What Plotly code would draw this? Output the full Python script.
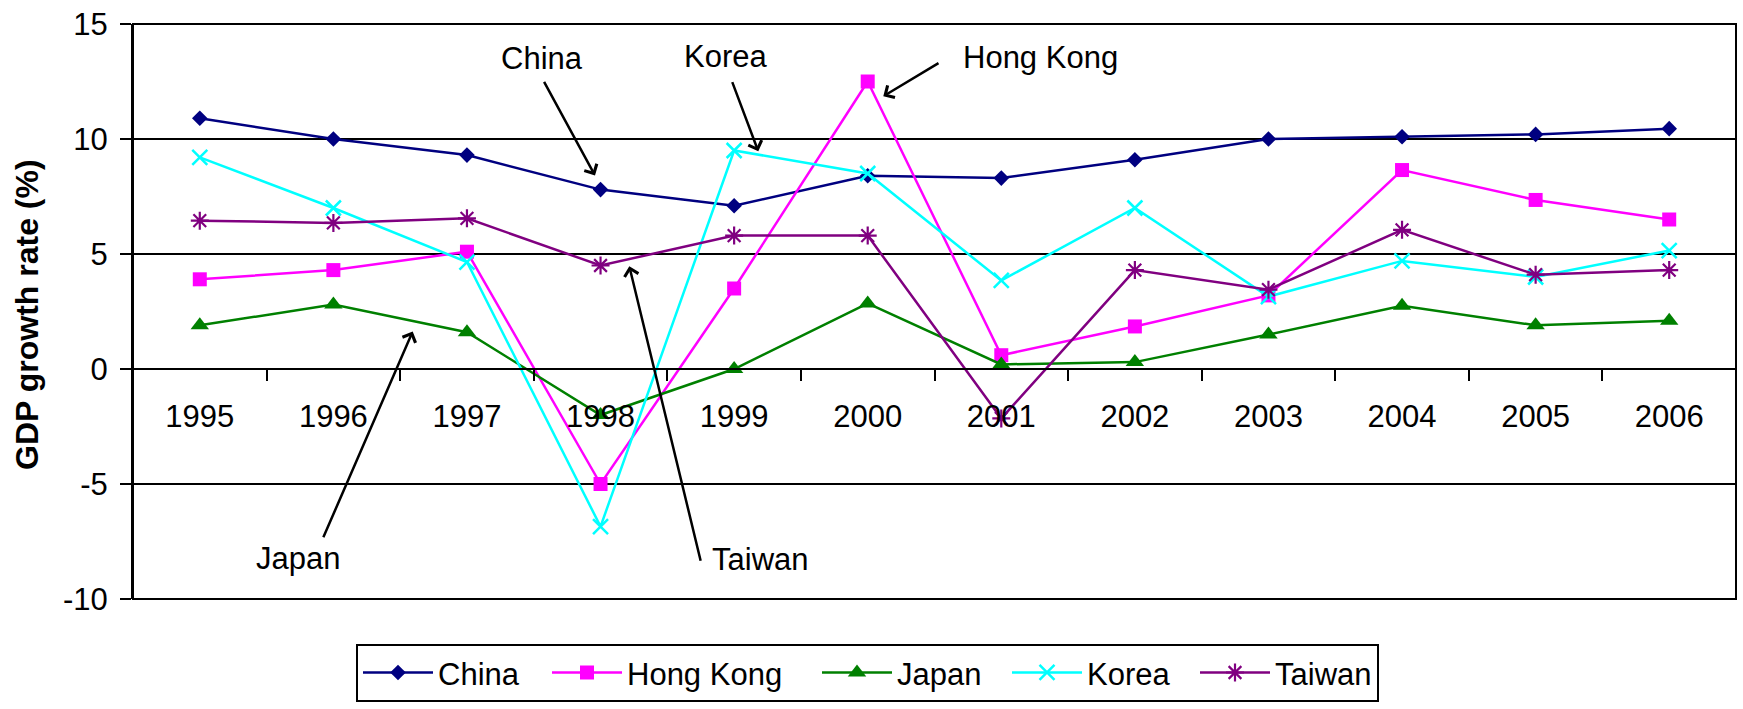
import plotly.graph_objects as go

years = ["1995", "1996", "1997", "1998", "1999", "2000",
         "2001", "2002", "2003", "2004", "2005", "2006"]
china = [10.9, 10.0, 9.3, 7.8, 7.1, 8.4, 8.3, 9.1, 10.0, 10.1, 10.2, 10.45]
hong_kong = [3.9, 4.3, 5.1, -5.0, 3.5, 12.5, 0.6, 1.85, 3.2, 8.65, 7.35, 6.5]
japan = [1.9, 2.8, 1.6, -2.0, 0.0, 2.85, 0.2, 0.3, 1.5, 2.75, 1.9, 2.1]
korea = [9.2, 7.0, 4.65, -6.85, 9.5, 8.5, 3.85, 7.0, 3.15, 4.7, 4.0, 5.15]
taiwan = [6.45, 6.35, 6.55, 4.5, 5.8, 5.8, -2.15, 4.3, 3.45, 6.05, 4.1, 4.3]

y_ticks = [-10, -5, 0, 5, 10, 15]
y_tick_text = ["-10", "-5", "0", "5", "10", "15"]

FONT = "Liberation Sans, Arial, sans-serif"
fs = 31

L, R, T, B = 133, 7, 22, 106
W = 1743 - L - R
H = 709 - T - B


def px(xp):
    return (xp - L) / W


def py(yp):
    return 1 - (yp - T) / H


series = [
    ("China", china, "#000080", dict(symbol="diamond", size=12), 104),
    ("Hong Kong", hong_kong, "#FF00FF", dict(symbol="square", size=14), 185),
    ("Japan", japan, "#008000", dict(symbol="triangle-up", size=16), 105),
    ("Korea", korea, "#00FFFF", dict(symbol="x-thin-open", size=15,
                                      line=dict(width=2.5, color="#00FFFF")), 103),
    ("Taiwan", taiwan, "#800080", dict(symbol="asterisk-open", size=15,
                                       line=dict(width=2.2, color="#800080")), 97),
]

fig = go.Figure()
for name, vals, col, mk, lw in series:
    m = dict(color=col, **mk)
    fig.add_trace(go.Scatter(x=years, y=vals, name=name, mode="lines+markers",
                             line=dict(color=col, width=2.5), marker=m,
                             legendwidth=lw))

# plot-area border
fig.add_shape(type="rect", xref="paper", yref="paper", x0=0, x1=1, y0=0, y1=1,
              line=dict(color="black", width=2), layer="below")

annotations = []
labels = [
    ("China", 541.7, 57),
    ("Korea", 725, 55),
    ("Hong Kong", 1040, 55.5),
    ("Japan", 298, 562),
    ("Taiwan", 760.5, 563),
]
for txt, x, y in labels:
    annotations.append(dict(text=txt, xref="paper", yref="paper", x=px(x), y=py(y),
                            xanchor="center", yanchor="middle", showarrow=False,
                            font=dict(family=FONT, size=fs, color="black")))
arrows = [
    ((595, 175), (543.3, 80)),
    ((758.3, 150.7), (731.7, 80)),
    ((883.3, 95), (940, 61)),
    ((412.7, 332.7), (322.7, 540)),
    ((629.3, 266.7), (701, 562.7)),
]
for (hx, hy), (tx, ty) in arrows:
    annotations.append(dict(text="", xref="paper", yref="paper", x=px(hx), y=py(hy),
                            axref="pixel", ayref="pixel", ax=tx - hx, ay=ty - hy,
                            showarrow=True, arrowhead=4, arrowsize=1.1, arrowwidth=2.5,
                            arrowcolor="black", standoff=0))
annotations.append(dict(text="<b>GDP growth rate (%)</b>", xref="paper", yref="paper",
                        x=px(27), y=py(316), textangle=-90, showarrow=False,
                        xanchor="center", yanchor="middle",
                        font=dict(family=FONT, size=fs + 1, color="black")))

fig.update_layout(
    width=1743, height=709,
    margin=dict(l=L, r=R, t=T, b=B),
    paper_bgcolor="white", plot_bgcolor="white",
    font=dict(family=FONT, size=fs, color="black"),
    showlegend=True,
    legend=dict(orientation="h", xanchor="left", yanchor="top",
                x=px(356), y=py(648.3), bordercolor="black", borderwidth=2,
                bgcolor="white", font=dict(family=FONT, size=fs, color="black"),
                itemwidth=70, traceorder="normal"),
    annotations=annotations,
)

fig.update_xaxes(type="category", range=[-0.5, 11.5], anchor="free", position=0.4,
                 showline=True, linecolor="black", linewidth=2,
                 ticks="outside", ticklen=11, tickwidth=2, tickcolor="black",
                 tickson="boundaries", showgrid=False, ticklabelstandoff=20,
                 tickfont=dict(family=FONT, size=fs, color="black"))
fig.update_yaxes(range=[-10, 15], tickvals=y_ticks, ticktext=y_tick_text,
                 showgrid=True, gridcolor="black",
                 gridwidth=2, zeroline=True, zerolinecolor="black", zerolinewidth=2,
                 showline=True, linecolor="black", linewidth=2,
                 ticks="outside", ticklen=11, tickwidth=2, tickcolor="black",
                 ticklabelstandoff=6,
                 tickfont=dict(family=FONT, size=fs, color="black"))

fig.write_html("out.html")
